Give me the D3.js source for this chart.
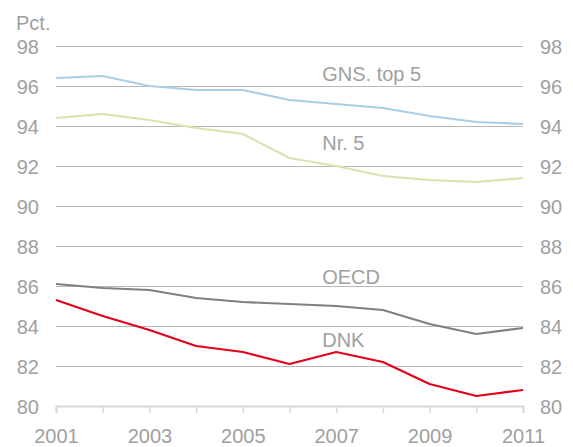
<!DOCTYPE html>
<html>
<head>
<meta charset="utf-8">
<script src="https://cdn.jsdelivr.net/npm/d3@7"></script>
<style>
  body { margin: 0; background: #fff; }
  svg { display: block; font-family: "Liberation Sans", Arial, sans-serif; }
</style>
</head>
<body>
<svg id="chart"></svg>
<script>
const years = [2001, 2002, 2003, 2004, 2005, 2006, 2007, 2008, 2009, 2010, 2011];
const gnsTop5 = [96.4, 96.5, 96.0, 95.8, 95.8, 95.3, 95.1, 94.9, 94.5, 94.2, 94.1];
const nr5 = [94.4, 94.6, 94.3, 93.9, 93.6, 92.4, 92.0, 91.5, 91.3, 91.2, 91.4];
const oecd = [86.1, 85.9, 85.8, 85.4, 85.2, 85.1, 85.0, 84.8, 84.1, 83.6, 83.9];
const dnk = [85.3, 84.5, 83.8, 83.0, 82.7, 82.1, 82.7, 82.2, 81.1, 80.5, 80.8];
const yTicks = [80, 82, 84, 86, 88, 90, 92, 94, 96, 98];
const xTicks = [2001, 2003, 2005, 2007, 2009, 2011];

const series = [
  { name: 'GNS. top 5', values: gnsTop5, color: '#a8cfe4', labelYear: 2007, labelY: 96.25 },
  { name: 'Nr. 5', values: nr5, color: '#d6e5ad', labelYear: 2007, labelY: 92.8 },
  { name: 'OECD', values: oecd, color: '#808080', labelYear: 2007, labelY: 86.1 },
  { name: 'DNK', values: dnk, color: '#e2001a', labelYear: 2007, labelY: 82.95 }
];

const svgWidth = 573;
const svgHeight = 447;
const margin = { top: 46, right: 50, bottom: 41, left: 56 };
const chartWidth = svgWidth - margin.left - margin.right;
const chartHeight = svgHeight - margin.top - margin.bottom;

const svg = d3.select('#chart')
  .attr('width', svgWidth)
  .attr('height', svgHeight);

const g = svg.append('g')
  .attr('transform', `translate(${margin.left}, ${margin.top})`);

const xScale = d3.scaleLinear()
  .domain([2001, 2011])
  .range([0, chartWidth]);

const yScale = d3.scaleLinear()
  .domain([80, 98])
  .range([chartHeight, 0]);

// gridlines
g.selectAll('.grid')
  .data(yTicks.filter(t => t !== 80))
  .enter().append('line')
  .attr('class', 'grid')
  .attr('x1', 0)
  .attr('x2', chartWidth)
  .attr('y1', d => Math.round(yScale(d)) + 0.5)
  .attr('y2', d => Math.round(yScale(d)) + 0.5)
  .attr('stroke', '#b8b8b8')
  .attr('stroke-width', 1);

// left and right axes (labels only)
const leftAxis = d3.axisLeft(yScale).tickValues(yTicks).tickSize(0).tickPadding(17);
const rightAxis = d3.axisRight(yScale).tickValues(yTicks).tickSize(0).tickPadding(17);

g.append('g').attr('class', 'y-left').call(leftAxis);
g.append('g').attr('class', 'y-right')
  .attr('transform', `translate(${chartWidth}, 0)`)
  .call(rightAxis);

// bottom axis
const xAxis = d3.axisBottom(xScale)
  .tickValues(years)
  .tickSize(7)
  .tickPadding(16)
  .tickFormat(d => xTicks.includes(d) ? d3.format('d')(d) : '');

g.append('g').attr('class', 'x-axis')
  .attr('transform', `translate(0, ${chartHeight})`)
  .call(xAxis);

svg.selectAll('.domain').attr('stroke', 'none');
svg.select('.x-axis .domain').attr('stroke', '#d9d9d9').attr('stroke-width', 2);
svg.selectAll('.x-axis .tick line').attr('stroke', '#d9d9d9').attr('stroke-width', 1.5);
svg.selectAll('.tick text')
  .attr('fill', '#a0a0a0')
  .style('font-size', '20px')
  .style('font-family', '"Liberation Sans", Arial, sans-serif');
svg.selectAll('.y-left .tick text, .y-right .tick text').attr('dy', '0.35em');

// lines
const line = d3.line()
  .x((d, i) => xScale(years[i]))
  .y(d => yScale(d));

series.forEach(s => {
  g.append('path')
    .datum(s.values)
    .attr('fill', 'none')
    .attr('stroke', s.color)
    .attr('stroke-width', 2.2)
    .attr('stroke-linejoin', 'round')
    .attr('d', line);

  g.append('text')
    .attr('x', xScale(s.labelYear) - 14)
    .attr('y', yScale(s.labelY))
    .attr('fill', '#a0a0a0')
    .style('font-size', '20px')
    .text(s.name);
});

svg.append('text')
  .attr('x', 16)
  .attr('y', 30)
  .attr('fill', '#a0a0a0')
  .style('font-size', '20px')
  .text('Pct.');
</script>
</body>
</html>
